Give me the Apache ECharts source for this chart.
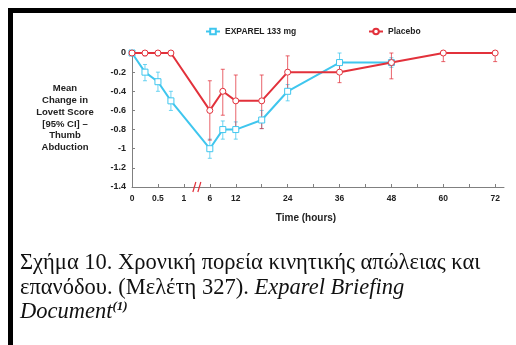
<!DOCTYPE html>
<html>
<head>
<meta charset="utf-8">
<script src="https://cdn.jsdelivr.net/npm/echarts@6/dist/echarts.min.js"></script>
<style>
html,body{margin:0;padding:0;background:#fff;}
#chart{width:516px;height:345px;}
</style>
</head>
<body>
<div id="chart"></div>
<script>
// ---- data (hours and mean change with 95% CI) ----
const hoursExparel = [0, 0.25, 0.5, 0.75, 6, 9, 12, 18, 24, 36, 48];
const exparelMean  = [0, -0.2, -0.3, -0.5, -1.0, -0.8, -0.8, -0.7, -0.4, -0.1, -0.1];
const exparelLow   = [0, -0.29, -0.4, -0.6, -1.1, -0.9, -0.9, -0.79, -0.5, -0.19, -0.15];
const exparelHigh  = [0, -0.12, -0.2, -0.4, -0.9, -0.71, -0.72, -0.6, -0.33, 0, -0.05];

const hoursPlacebo = [0, 0.25, 0.5, 0.75, 6, 9, 12, 18, 24, 36, 48, 60, 72];
const placeboMean  = [0, 0, 0, 0, -0.6, -0.4, -0.5, -0.5, -0.2, -0.2, -0.1, 0, 0];
const placeboLow   = [0, -0.03, -0.03, -0.03, -0.91, -0.65, -0.8, -0.79, -0.38, -0.31, -0.27, -0.09, -0.09];
const placeboHigh  = [0, 0, 0, 0, -0.29, -0.17, -0.23, -0.23, -0.03, -0.09, 0, 0, 0];

const xTickHours  = [0, 0.5, 1, 6, 12, 18, 24, 30, 36, 42, 48, 54, 60, 66, 72];
const xLabelHours = [0, 0.5, 1, 6, 12, 24, 36, 48, 60, 72];
const yTicks = [0, -0.2, -0.4, -0.6, -0.8, -1, -1.2, -1.4];

const seriesNames = ['EXPAREL 133 mg', 'Placebo'];
const yAxisTitle = 'Mean\nChange in\nLovett Score\n[95% CI] –\nThumb\nAbduction';
const xAxisTitle = 'Time (hours)';

// broken time axis: 0–1 h on an expanded scale, 6–72 h on a compressed one
function toAxis(t) { return t <= 1 ? t : 1.5 + (t - 6) / 12; }
function fromAxis(u) { return u <= 1 ? u : Math.round((u - 1.5) * 12 + 6); }

const cyan = '#3fc6ee';
const red = '#e2313b';
const FONT = '"Liberation Sans", Arial, sans-serif';
const SERIF = '"Liberation Serif", "Times New Roman", serif';
const CAP = 22.5;

function pts(hours, vals) { return hours.map((h, i) => [toAxis(h), vals[i]]); }
function errData(hours, lo, hi) { return hours.map((h, i) => [toAxis(h), lo[i], hi[i]]); }

function errSeries(name, data, color) {
  return {
    type: 'custom', name: name, data: data, z: 1, silent: true,
    encode: { x: 0, y: [1, 2] },
    renderItem: function (params, api) {
      const x = api.value(0);
      const lo = api.coord([x, api.value(1)]);
      const hi = api.coord([x, api.value(2)]);
      const c = 2;
      const st = { stroke: color, lineWidth: 1, opacity: 0.75 };
      return {
        type: 'group', children: [
          { type: 'line', shape: { x1: lo[0], y1: lo[1], x2: hi[0], y2: hi[1] }, style: st },
          { type: 'line', shape: { x1: lo[0] - c, y1: lo[1], x2: lo[0] + c, y2: lo[1] }, style: st },
          { type: 'line', shape: { x1: hi[0] - c, y1: hi[1], x2: hi[0] + c, y2: hi[1] }, style: st }
        ]
      };
    }
  };
}

const chart = echarts.init(document.getElementById('chart'), null, { renderer: 'canvas' });

const baseGraphic = [
  { type: 'rect', shape: { x: 8, y: 8, width: 520, height: 5 }, style: { fill: '#000' } },
  { type: 'rect', shape: { x: 8, y: 8, width: 5, height: 345 }, style: { fill: '#000' } },
  {
    type: 'text', z: 10,
    style: {
      x: 65, y: 118, text: yAxisTitle, align: 'center', verticalAlign: 'middle',
      font: 'bold 9.5px ' + FONT, lineHeight: 11.8, fill: '#222'
    }
  },
  {
    type: 'text',
    style: { x: 306, y: 218, text: xAxisTitle, align: 'center', verticalAlign: 'middle',
      font: 'bold 10px ' + FONT, fill: '#222' }
  },
  {
    type: 'text',
    style: { x: 20, y: 263, text: 'Σχήμα 10. Χρονική πορεία κινητικής απώλειας και',
      verticalAlign: 'middle', font: CAP + 'px ' + SERIF, fill: '#111' }
  },
  {
    type: 'text',
    style: {
      x: 20, y: 288, verticalAlign: 'middle',
      text: '{n|επανόδου. (Μελέτη 327). }{i|Exparel Briefing}',
      rich: {
        n: { fontFamily: SERIF, fontSize: CAP, fill: '#111' },
        i: { fontFamily: SERIF, fontSize: CAP, fontStyle: 'italic', fill: '#111' }
      }
    }
  },
  {
    type: 'text',
    style: {
      x: 20, y: 312, verticalAlign: 'middle',
      text: '{i|Document}{s|(1)}',
      rich: {
        i: { fontFamily: SERIF, fontSize: CAP, fontStyle: 'italic', fill: '#111', lineHeight: 24 },
        s: { fontFamily: SERIF, fontSize: 13, fontStyle: 'italic', fontWeight: 'bold', fill: '#111', verticalAlign: 'top', lineHeight: 24 }
      }
    }
  }
];

const option = {
  backgroundColor: '#ffffff',
  animation: false,
  textStyle: { fontFamily: FONT },
  legend: [
    {
      data: [seriesNames[0]], left: 205, top: 27, padding: 0, itemWidth: 14, itemHeight: 7, itemGap: 4,
      textStyle: { fontFamily: FONT, fontWeight: 'bold', fontSize: 8.5, color: '#222' }
    },
    {
      data: [seriesNames[1]], left: 368, top: 27, padding: 0, itemWidth: 14, itemHeight: 7, itemGap: 4,
      textStyle: { fontFamily: FONT, fontWeight: 'bold', fontSize: 8.5, color: '#222' }
    }
  ],
  grid: { left: 132, right: 12, top: 53, bottom: 158, containLabel: false },
  xAxis: {
    type: 'value', min: 0, max: 7.17,
    splitLine: { show: false },
    axisLine: { onZero: false, lineStyle: { color: '#808080', width: 1 } },
    axisTick: { show: true, inside: true, length: 3, lineStyle: { color: '#808080' },
      customValues: xTickHours.map(toAxis) },
    axisLabel: {
      customValues: xLabelHours.map(toAxis),
      formatter: function (v) { return String(fromAxis(v)); },
      fontFamily: FONT, fontWeight: 'bold', fontSize: 8.5, color: '#222', margin: 7
    }
  },
  yAxis: {
    type: 'value', min: -1.4, max: 0, interval: 0.2,
    splitLine: { show: false },
    axisLine: { show: true, onZero: false, lineStyle: { color: '#808080', width: 1 } },
    axisTick: { show: true, inside: true, length: 3, lineStyle: { color: '#808080' } },
    axisLabel: {
      customValues: yTicks,
      formatter: function (v) { return String(Math.round(v * 10) / 10); },
      fontFamily: FONT, fontWeight: 'bold', fontSize: 9, color: '#222', margin: 6
    }
  },
  series: [
    errSeries('EXPAREL CI', errData(hoursExparel, exparelLow, exparelHigh), cyan),
    errSeries('Placebo CI', errData(hoursPlacebo, placeboLow, placeboHigh), red),
    {
      type: 'line', name: seriesNames[0], data: pts(hoursExparel, exparelMean), z: 3,
      symbol: 'rect', symbolSize: 6, showAllSymbol: true, clip: false,
      itemStyle: { color: '#ffffff', borderColor: cyan, borderWidth: 1 },
      lineStyle: { color: cyan, width: 2 }
    },
    {
      type: 'line', name: seriesNames[1], data: pts(hoursPlacebo, placeboMean), z: 4,
      symbol: 'circle', symbolSize: 6, showAllSymbol: true, clip: false,
      itemStyle: { color: '#ffffff', borderColor: red, borderWidth: 1 },
      lineStyle: { color: red, width: 2 }
    }
  ],
  graphic: baseGraphic
};

chart.setOption(option);

// break mark "//" on the time axis between 1 h and 6 h
const bp = chart.convertToPixel({ gridIndex: 0 }, [1.25, -1.4]);
chart.setOption({
  graphic: baseGraphic.concat([
    { type: 'line', z: 20, shape: { x1: bp[0] - 4, y1: bp[1] + 5, x2: bp[0] - 1, y2: bp[1] - 5 }, style: { stroke: red, lineWidth: 1.2 } },
    { type: 'line', z: 20, shape: { x1: bp[0] + 1, y1: bp[1] + 5, x2: bp[0] + 4, y2: bp[1] - 5 }, style: { stroke: red, lineWidth: 1.2 } }
  ])
});
</script>
</body>
</html>
